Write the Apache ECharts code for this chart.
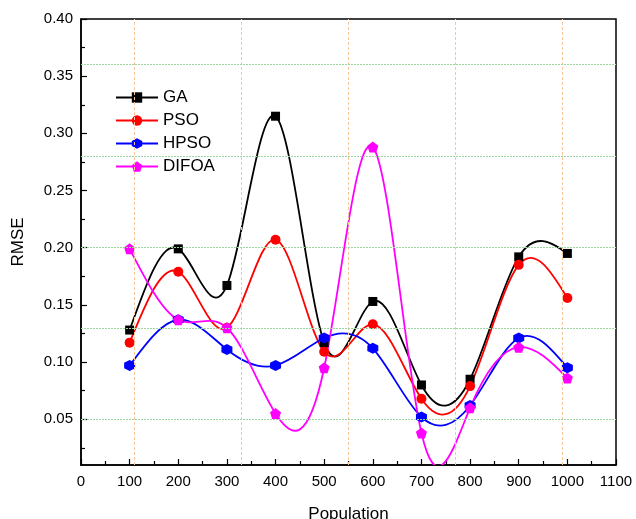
<!DOCTYPE html>
<html>
<head>
<meta charset="utf-8">
<script src="https://cdn.jsdelivr.net/npm/echarts@6/dist/echarts.min.js"></script>
<style>
  html, body { margin: 0; padding: 0; background: #fff; }
  #chart { width: 636px; height: 519px; }
</style>
</head>
<body>
<div id="chart"></div>
<script>
// Population sizes on the x axis
const populations = [100, 200, 300, 400, 500, 600, 700, 800, 900, 1000];

// RMSE per algorithm
const gaRmse    = [0.128, 0.199, 0.167, 0.315, 0.117, 0.153, 0.080, 0.085, 0.192, 0.195];
const psoRmse   = [0.117, 0.179, 0.130, 0.207, 0.109, 0.133, 0.068, 0.079, 0.185, 0.156];
const hpsoRmse  = [0.097, 0.137, 0.111, 0.097, 0.121, 0.112, 0.052, 0.062, 0.121, 0.095];
const difoaRmse = [0.199, 0.137, 0.130, 0.055, 0.095, 0.288, 0.038, 0.060, 0.113, 0.086];

// Axis tick values
const yMajorTicks = [0.05, 0.10, 0.15, 0.20, 0.25, 0.30, 0.35, 0.40];
const yMinorTicks = [0.025, 0.075, 0.125, 0.175, 0.225, 0.275, 0.325, 0.375];

// Background reference grid
const xGridLines = [110, 330, 550, 770, 990];
const yGridLines = [0.049, 0.127, 0.205, 0.283, 0.361];

const Y_MIN = 0.01, Y_MAX = 0.40;

const hexagon  = 'path://M0,-1L0.866,-0.5L0.866,0.5L0,1L-0.866,0.5L-0.866,-0.5Z';
const pentagon = 'path://M0,-1L0.951,-0.309L0.588,0.809L-0.588,0.809L-0.951,-0.309Z';

const font = 'Liberation Sans, Arial, sans-serif';

// Tangent slopes of a natural cubic spline through (xs, ys)
function splineSlopes(xs, ys) {
  const n = xs.length;
  const h = [], d = [];
  for (let i = 0; i < n - 1; i++) {
    h.push(xs[i + 1] - xs[i]);
    d.push((ys[i + 1] - ys[i]) / h[i]);
  }
  // Tridiagonal system for the second derivatives (ends fixed at 0)
  const M = new Array(n).fill(0);
  const a = [], b = [], c = [], r = [];
  for (let i = 1; i < n - 1; i++) {
    a.push(h[i - 1]);
    b.push(2 * (h[i - 1] + h[i]));
    c.push(h[i]);
    r.push(6 * (d[i] - d[i - 1]));
  }
  const m = b.length;
  for (let i = 1; i < m; i++) {
    const w = a[i] / b[i - 1];
    b[i] -= w * c[i - 1];
    r[i] -= w * r[i - 1];
  }
  const sol = new Array(m);
  sol[m - 1] = r[m - 1] / b[m - 1];
  for (let i = m - 2; i >= 0; i--) sol[i] = (r[i] - c[i] * sol[i + 1]) / b[i];
  for (let i = 0; i < m; i++) M[i + 1] = sol[i];

  const slopes = [];
  for (let i = 0; i < n - 1; i++) slopes.push(d[i] - h[i] * (2 * M[i] + M[i + 1]) / 6);
  slopes.push(d[n - 2] + h[n - 2] * (M[n - 2] + 2 * M[n - 1]) / 6);
  return slopes;
}

function pairs(vals) {
  return populations.map((p, i) => [p, vals[i]]);
}

// Smooth curve through the points, each span drawn as a cubic Bezier
function curveSeries(vals, color) {
  const slopes = splineSlopes(populations, vals);
  return {
    type: 'custom',
    data: pairs(vals),
    encode: { x: 0, y: 1 },
    silent: true,
    clip: true,
    z: 2,
    renderItem: function (params, api) {
      const i = params.dataIndex;
      if (i >= populations.length - 1) return null;
      const x0 = populations[i], x1 = populations[i + 1];
      const y0 = vals[i], y1 = vals[i + 1];
      const h = x1 - x0;
      const p0 = api.coord([x0, y0]);
      const c0 = api.coord([x0 + h / 3, y0 + slopes[i] * h / 3]);
      const c1 = api.coord([x1 - h / 3, y1 - slopes[i + 1] * h / 3]);
      const p1 = api.coord([x1, y1]);
      const cs = params.coordSys;
      return {
        type: 'group',
        clipPath: { type: 'rect', shape: { x: cs.x, y: cs.y, width: cs.width, height: cs.height } },
        children: [{
          type: 'bezierCurve',
          shape: { x1: p0[0], y1: p0[1], cpx1: c0[0], cpy1: c0[1],
                   cpx2: c1[0], cpy2: c1[1], x2: p1[0], y2: p1[1] },
          style: { stroke: color, lineWidth: 1.8, fill: null }
        }]
      };
    }
  };
}

function markerSeries(name, vals, color, symbol, size) {
  return {
    name: name,
    type: 'line',
    data: pairs(vals),
    symbol: symbol,
    symbolSize: size,
    showAllSymbol: true,
    lineStyle: { color: color, width: 2, opacity: 0 },
    itemStyle: { color: color, borderColor: color, borderWidth: 0, opacity: 1 },
    z: 3
  };
}

function legendItem(name, color) {
  return {
    name: name,
    lineStyle: { color: color, width: 2, opacity: 1 },
    itemStyle: { color: color, borderColor: color, borderWidth: 0, opacity: 1 }
  };
}

const chart = echarts.init(document.getElementById('chart'), null, { renderer: 'canvas' });

chart.setOption({
  animation: false,
  backgroundColor: '#fff',
  textStyle: { fontFamily: font },
  grid: {
    left: 81, right: 20, top: 19, bottom: 54,
    outerBoundsMode: 'none',
    containLabel: false,
    show: true, borderColor: '#000', borderWidth: 1.5, backgroundColor: 'transparent'
  },
  legend: {
    left: 115, top: 89,
    padding: 0,
    orient: 'vertical',
    itemWidth: 42, itemHeight: 13, itemGap: 6,
    textStyle: { fontSize: 17, lineHeight: 17, color: '#000', fontFamily: font },
    data: [
      legendItem('GA', '#000000'),
      legendItem('PSO', '#ff0000'),
      legendItem('HPSO', '#0000ff'),
      legendItem('DIFOA', '#ff00ff')
    ]
  },
  xAxis: {
    type: 'value',
    min: 0, max: 1100, interval: 100,
    name: 'Population',
    nameLocation: 'middle',
    nameGap: 41,
    nameTextStyle: { fontSize: 17, color: '#000', fontFamily: font, verticalAlign: 'top' },
    axisLine: { lineStyle: { color: '#000', width: 1.5 } },
    axisTick: { inside: true, length: 6, lineStyle: { color: '#000', width: 1.2 } },
    minorTick: { show: true, splitNumber: 2, length: 4, lineStyle: { color: '#000', width: 1.2 } },
    axisLabel: { fontSize: 15, color: '#000', margin: 9, fontFamily: font,
                 formatter: v => String(v) },
    splitLine: { show: false }
  },
  yAxis: [
    {
      type: 'value',
      min: Y_MIN, max: Y_MAX,
      name: 'RMSE',
      nameLocation: 'middle',
      nameGap: 54,
      nameRotate: 90,
      nameTextStyle: { fontSize: 17, color: '#000', fontFamily: font },
      axisLine: { show: true, lineStyle: { color: '#000', width: 1.5 } },
      axisTick: { show: true, inside: true, length: 6, customValues: yMajorTicks,
                  lineStyle: { color: '#000', width: 1.2 } },
      axisLabel: { fontSize: 15, color: '#000', margin: 8, fontFamily: font,
                   customValues: yMajorTicks,
                   formatter: v => v.toFixed(2) },
      splitLine: { show: false }
    },
    {
      type: 'value',
      min: Y_MIN, max: Y_MAX,
      position: 'left',
      axisLine: { show: false },
      axisTick: { show: true, inside: true, length: 4, customValues: yMinorTicks,
                  lineStyle: { color: '#000', width: 1.2 } },
      axisLabel: { show: false, customValues: yMinorTicks },
      splitLine: { show: false }
    }
  ],
  series: [
    {
      type: 'line',
      data: [],
      silent: true,
      z: 1,
      markLine: {
        silent: true,
        symbol: ['none', 'none'],
        label: { show: false },
        data: xGridLines.map(v => ({ xAxis: v, lineStyle: { color: '#f8c89a', type: [3, 2], width: 1 } }))
          .concat(yGridLines.map(v => ({ yAxis: v, lineStyle: { color: '#9ed49e', type: [2, 1], width: 1 } })))
      }
    },
    curveSeries(gaRmse, '#000000'),
    curveSeries(psoRmse, '#ff0000'),
    curveSeries(hpsoRmse, '#0000ff'),
    curveSeries(difoaRmse, '#ff00ff'),
    markerSeries('GA', gaRmse, '#000000', 'rect', 9),
    markerSeries('PSO', psoRmse, '#ff0000', 'circle', 10),
    markerSeries('HPSO', hpsoRmse, '#0000ff', hexagon, 11),
    markerSeries('DIFOA', difoaRmse, '#ff00ff', pentagon, 11)
  ]
});
</script>
</body>
</html>
